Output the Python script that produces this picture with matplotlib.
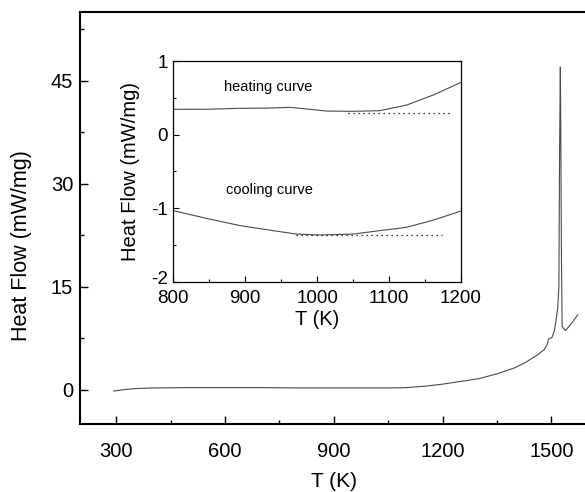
import matplotlib
matplotlib.use("Agg")
import matplotlib.pyplot as plt
from matplotlib.ticker import MultipleLocator
from matplotlib.transforms import ScaledTranslation

plt.rcParams['font.family'] = ['Liberation Sans', 'DejaVu Sans']
plt.rcParams['axes.unicode_minus'] = False

# main DSC trace
temp = [293, 320, 350, 400, 500, 600, 700, 800, 900, 1000, 1050, 1100, 1150,
        1200, 1250, 1300, 1350, 1400, 1430, 1460, 1480, 1488, 1493, 1502, 1508,
        1512, 1518, 1521, 1523, 1525, 1526, 1528, 1530, 1539, 1555, 1573]
heat_flow = [-0.2, 0.0, 0.15, 0.25, 0.3, 0.3, 0.3, 0.25, 0.25, 0.25, 0.25, 0.3,
             0.5, 0.8, 1.2, 1.6, 2.3, 3.2, 4.0, 5.0, 5.8, 6.5, 7.4, 7.6, 8.5,
             9.7, 12.0, 15.0, 35.0, 47.0, 40.0, 20.0, 9.2, 8.6, 9.6, 10.9]

# inset: heating and cooling curves
heat_T = [800, 850, 893, 930, 962, 976, 1013, 1050, 1087, 1124, 1162, 1200]
heat_v = [0.343, 0.345, 0.357, 0.36, 0.37, 0.357, 0.32, 0.316, 0.325, 0.40, 0.54, 0.71]
heat_base_T = [1043, 1187]
heat_base_v = [0.298, 0.298]

cool_T = [800, 846, 893, 939, 971, 1004, 1050, 1087, 1124, 1162, 1200]
cool_v = [-1.034, -1.139, -1.238, -1.306, -1.352, -1.365, -1.352, -1.306, -1.261, -1.161, -1.039]
cool_base_T = [971, 1173]
cool_base_v = [-1.365, -1.365]

line_color = '#4a4a4a'

fig = plt.figure(figsize=(5.85, 4.92), dpi=100)

# main axes
ax = fig.add_axes([0.1368, 0.1382, 0.8675, 0.8374])
ax.plot(temp, heat_flow, color=line_color, lw=0.8)
ax.set_xlim(200, 1600)
ax.set_ylim(-5, 55)
ax.xaxis.set_major_locator(MultipleLocator(300))
ax.xaxis.set_minor_locator(MultipleLocator(150))
ax.yaxis.set_major_locator(MultipleLocator(15))
ax.yaxis.set_minor_locator(MultipleLocator(7.5))
ax.set_xticks([300, 600, 900, 1200, 1500])
ax.tick_params(which='both', direction='in', width=1.0, labelsize=14.5)
ax.tick_params(which='major', length=6)
ax.tick_params(which='minor', length=3)
ax.tick_params(axis='x', pad=13)
ax.tick_params(axis='y', pad=5)
ax.tick_params(top=False, right=False, which='both')
for s in ax.spines.values():
    s.set_linewidth(1.5)
ax.spines['right'].set_visible(False)
ax.set_xlabel('T (K)', fontsize=15, labelpad=8)
ax.set_ylabel('Heat Flow (mW/mg)', fontsize=15.5)
ax.yaxis.set_label_coords(-0.095, 0.434)

# inset axes
ins = fig.add_axes([0.2963, 0.4274, 0.4918, 0.4486])
ins.plot(heat_T, heat_v, color=line_color, lw=0.8)
ins.plot(cool_T, cool_v, color=line_color, lw=0.8)
ins.plot(heat_base_T, heat_base_v, color='black', lw=0.9, ls=(0, (1, 3)))
ins.plot(cool_base_T, cool_base_v, color='black', lw=0.9, ls=(0, (1, 3)))
ins.set_xlim(800, 1200)
ins.set_ylim(-2, 1)
ins.set_xticks([800, 900, 1000, 1100, 1200])
ins.set_yticks([-2, -1, 0, 1])
ins.xaxis.set_minor_locator(MultipleLocator(50))
ins.yaxis.set_minor_locator(MultipleLocator(0.5))
ins.tick_params(which='both', direction='in', width=0.8, labelsize=13.5)
ins.tick_params(which='major', length=4)
ins.tick_params(which='minor', length=2.5)
ins.tick_params(axis='x', pad=6)
ins.tick_params(axis='y', pad=4)
for s in ins.spines.values():
    s.set_linewidth(0.9)
ins.set_xlabel('T (K)', fontsize=14.5, labelpad=2)
ins.set_ylabel('Heat Flow (mW/mg)', fontsize=14.5, labelpad=8)
ins.text(870, 0.65, 'heating curve', fontsize=10.5, va='center')
ins.text(873, -0.76, 'cooling curve', fontsize=10.5, va='center')

# lift the "-2" label a little so it clears the corner, as in the original
lbl = ins.get_yticklabels()[0]
lbl.set_transform(lbl.get_transform() + ScaledTranslation(0, 3 / 72, fig.dpi_scale_trans))

fig.savefig('out.png', dpi=100)
